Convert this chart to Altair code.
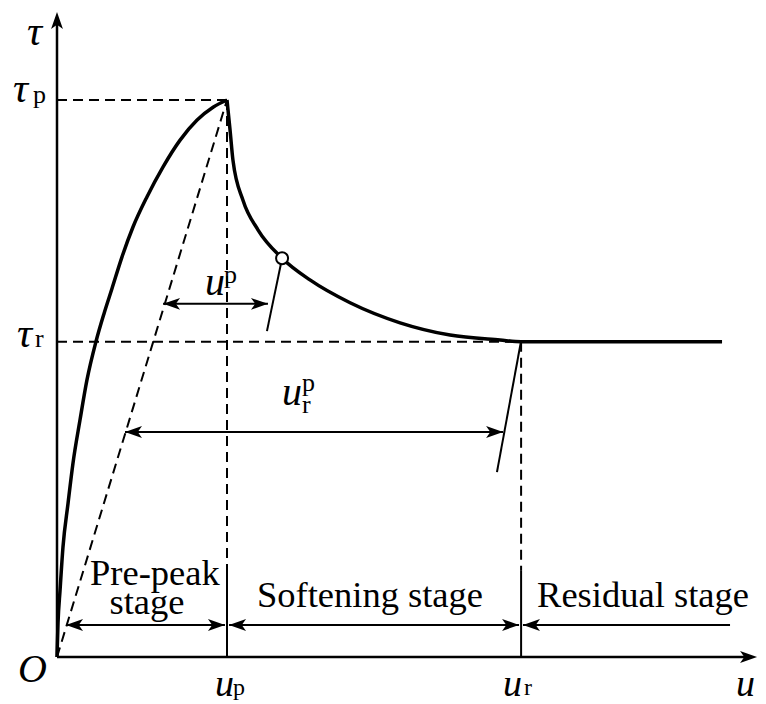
import altair as alt
import pandas as pd

# ---- key values (u in units of u_p, tau in units of tau_p) ----
U_P, U_R = 1.0, 2.73
TAU_P, TAU_R = 1.0, 0.566
U_AXIS_END, TAU_AXIS_END = 4.118, 1.158
SEP_TOP = 0.156          # top of the solid stage separators
STAGE_Y = 0.0575         # level of the stage arrows

# pre-peak branch of the curve
pre_u = [0.0, 0.006, 0.018, 0.035, 0.065, 0.094, 0.135, 0.176, 0.229, 0.276,
         0.324, 0.382, 0.447, 0.529, 0.624, 0.724, 0.824, 0.918, 1.0]
pre_tau = [0.0, 0.061, 0.120, 0.197, 0.276, 0.348, 0.425, 0.497, 0.566, 0.616,
           0.662, 0.718, 0.772, 0.826, 0.880, 0.928, 0.964, 0.987, 1.0]

# softening + residual branch
soft_u = [1.0, 1.018, 1.035, 1.094, 1.182, 1.324, 1.488, 1.724, 2.018, 2.312,
          2.606, 2.73, 3.912]
soft_tau = [1.0, 0.946, 0.892, 0.820, 0.767, 0.716, 0.677, 0.636, 0.600, 0.578,
            0.569, 0.566, 0.566]

# marked point on the softening branch
mark_u, mark_tau = [1.324], [0.716]

# dashed reference lines: (u, tau, u2, tau2)
dashed = [(0, TAU_P, U_P, TAU_P), (0, TAU_R, U_R, TAU_R),
          (U_P, TAU_P, U_P, SEP_TOP), (U_R, TAU_R, U_R, SEP_TOP),
          (0, 0, U_P, TAU_P)]
# axes and stage separators
axes_lines = [(0, 0, 4.07, 0), (0, 0, 0, 1.144)]
separators = [(U_P, 0, U_P, SEP_TOP), (U_R, 0, U_R, SEP_TOP)]
# unloading leader lines
leaders = [(1.324, 0.716, 1.235, 0.585), (2.729, 0.566, 2.588, 0.332)]
# dimension / stage arrow shafts
shafts = [(0.624, 0.634, 1.241, 0.634), (0.40, 0.404, 2.624, 0.404),
          (0.053, STAGE_Y, 0.988, STAGE_Y), (1.012, STAGE_Y, 2.718, STAGE_Y),
          (2.741, STAGE_Y, 3.959, STAGE_Y)]
# arrow heads (tip positions)
heads_right = [(1.241, 0.634), (2.624, 0.404), (0.988, STAGE_Y), (2.718, STAGE_Y),
               (U_AXIS_END, 0)]
heads_left = [(0.624, 0.634), (0.40, 0.404), (0.053, STAGE_Y), (1.012, STAGE_Y),
              (2.741, STAGE_Y)]
heads_up = [(0, TAU_AXIS_END)]

# labels
tau_text = ["τ", "τ", "τ"]
tau_u = [-0.176, -0.259, -0.235]
tau_tau = [1.0987, 0.9964, 0.5566]
o_text, o_u, o_tau = ["O"], [-0.229], [-0.0449]
u_text = ["u", "u"]
u_u = [0.871, 1.324]
u_tau = [0.650, 0.4524]
bottom_u_text = ["u", "u", "u"]
bottom_u_u = [0.929, 2.624, 4.106]
bottom_u_tau = [-0.0700, -0.0700, -0.0700]
small_text = ["p", "r", "p", "p", "r"]
small_u = [-0.141, -0.129, 0.982, 1.441, 1.441]
small_tau = [0.9946, 0.5566, 0.671, 0.4776, 0.438]
bottom_sub_text = ["p", "r"]
bottom_sub_u = [1.035, 2.747]
bottom_sub_tau = [-0.0682, -0.0682]
stage_text = ["Pre-peak", "stage", "Softening stage", "Residual stage"]
stage_u = [0.576, 0.529, 1.841, 3.447]
stage_tau = [0.129, 0.0772, 0.0898, 0.0898]

W, H = 750, 696
xs = alt.Scale(domain=[-49 / 170, 701 / 170], nice=False, zero=False)
ys = alt.Scale(domain=[-47 / 557, 649 / 557], nice=False, zero=False)
SERIF = "Liberation Serif"


def enc():
    return dict(x=alt.X("u:Q", scale=xs, axis=None),
                y=alt.Y("tau:Q", scale=ys, axis=None))


def rules(rows, width, dash=None):
    kw = dict(color="black", strokeWidth=width)
    if dash:
        kw["strokeDash"] = dash
    df = pd.DataFrame(rows, columns=["u", "tau", "u2", "tau2"])
    return alt.Chart(df).mark_rule(**kw).encode(x2="u2:Q", y2="tau2:Q", **enc())


def curve(us, ts):
    df = pd.DataFrame({"u": us, "tau": ts, "i": range(len(us))})
    return alt.Chart(df).mark_line(color="black", strokeWidth=3.5,
                                   interpolate="monotone").encode(order="i:Q", **enc())


HEAD = "M0,0 L-2,-0.7 L-1.5,0 L-2,0.7 Z"


def heads(pts, ang):
    df = pd.DataFrame(pts, columns=["u", "tau"])
    return alt.Chart(df).mark_point(shape=HEAD, size=289, filled=True,
                                    color="black", opacity=1, strokeWidth=0,
                                    angle=ang).encode(**enc())


def texts(labels, us, ts, size, style="normal", align="left"):
    df = pd.DataFrame({"t": labels, "u": us, "tau": ts})
    return alt.Chart(df).mark_text(font=SERIF, fontSize=size, fontStyle=style,
                                   align=align, baseline="alphabetic",
                                   color="black").encode(text="t:N", **enc())


circle = alt.Chart(pd.DataFrame({"u": mark_u, "tau": mark_tau})).mark_point(
    shape="circle", size=144, filled=False, fill="white", color="black",
    strokeWidth=2, opacity=1).encode(**enc())

layers = [
    rules(dashed, 2, [10, 6]),
    rules(axes_lines, 2.5),
    rules(separators, 2),
    rules(leaders, 2),
    rules(shafts, 2),
    heads(heads_right, 0), heads(heads_left, 180), heads(heads_up, 270),
    curve(pre_u, pre_tau), curve(soft_u, soft_tau),
    circle,
    texts(tau_text, tau_u, tau_tau, 42, "italic"),
    texts(o_text, o_u, o_tau, 40, "italic"),
    texts(u_text, u_u, u_tau, 40, "italic"),
    texts(bottom_u_text[:2], bottom_u_u[:2], bottom_u_tau[:2], 38, "italic"),
    texts(bottom_u_text[2:], bottom_u_u[2:], bottom_u_tau[2:], 38, "italic", "right"),
    texts(small_text, small_u, small_tau, 26),
    texts(bottom_sub_text, bottom_sub_u, bottom_sub_tau, 24),
    texts(stage_text, stage_u, stage_tau, 36.5, align="center"),
]

chart = alt.layer(*layers).properties(
    width=W, height=H, padding=0,
    autosize=alt.AutoSizeParams(type="none"),
).configure_view(stroke=None)

chart.save("out.html", embed_options={"renderer": "svg", "actions": False})
